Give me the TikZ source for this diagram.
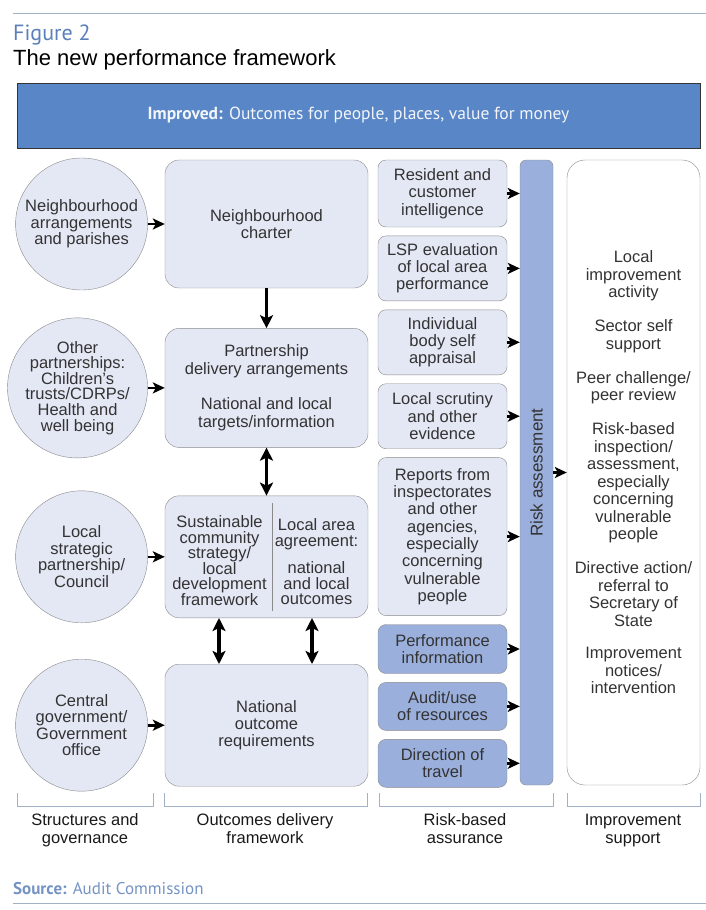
\documentclass[tikz,border=0pt]{standalone}
\usepackage{fontspec}
\setmainfont{Liberation Sans}
\newfontfamily\myriadlike{PT Sans}
\usetikzlibrary{positioning,arrows.meta}
\definecolor{bandblue}{HTML}{5886C6}
\definecolor{paleblue}{HTML}{E4E8F5}
\definecolor{midblue}{HTML}{9AAFDB}
\definecolor{edgegray}{HTML}{8A8A8A}
\definecolor{inktext}{HTML}{333333}
\definecolor{headblue}{HTML}{5B80B9}
\definecolor{rulegray}{HTML}{A3B1C6}
\begin{document}
\begin{tikzpicture}[x=1pt, y=-1pt, node distance=8.5pt, >={Stealth[length=12pt,width=11pt,inset=3pt]},
	txt/.style={font=\fontsize{16.5}{17.3}\selectfont, text=inktext, align=center, inner sep=0pt},
	circ/.style={txt, draw=edgegray, fill=paleblue, circle, minimum size=132pt},
	bigbox/.style={txt, draw=edgegray, fill=paleblue, rounded corners=14pt, minimum width=203pt},
	srcbox/.style={txt, draw=edgegray, fill=paleblue, rounded corners=8pt, minimum width=129pt},
	darkbox/.style={srcbox, fill=midblue},
	link/.style={->, line width=2.6pt},
	flow/.style={line width=3.2pt, >={Stealth[length=13pt,width=13pt,inset=3pt]}},
	collabel/.style={font=\fontsize{16.5}{18}\selectfont, text=black!90, align=center, inner sep=0pt}]
	\useasboundingbox (0,0) rectangle (706,910);
	\draw[rulegray, line width=1pt] (13,13) -- (706,13);
	\node[anchor=base west, inner sep=0pt, font=\myriadlike\fontsize{22}{24}\selectfont, text=headblue] (fig) at (13,40) {Figure 2};
	\node[anchor=base west, inner sep=0pt, font=\fontsize{22}{24}\selectfont] (title) at (13,65) {The new performance framework};
	\node[draw=black!80, fill=bandblue, minimum width=683pt, minimum height=65pt, inner sep=0pt, font=\myriadlike\fontsize{17.5}{18}\selectfont, text=white!92!bandblue] (band) at (358.5,115.5) {\textbf{Improved:} Outcomes for people, places, value for money};

	\node[bigbox, minimum height=128pt] (charter) at (266.5,224) {Neighbourhood\\charter};
	\node[bigbox, minimum height=119pt, below=40pt of charter, font=\fontsize{16.5}{18.5}\selectfont] (delivery) {Partnership\\delivery arrangements\\[16pt]National and local\\targets/information};
	\node[bigbox, minimum height=122pt, below=48pt of delivery] (strategy) {};
	\node[bigbox, minimum height=122pt, below=46pt of strategy] (national) {National\\outcome\\requirements};
	\node[txt, font=\fontsize{16.5}{15.5}\selectfont] (scs) at ([xshift=-47pt,yshift=-4pt]strategy.center) {Sustainable\\community\\strategy/\\local\\development\\framework};
	\node[txt, font=\fontsize{16.5}{15.5}\selectfont] (laa) at ([xshift=50pt,yshift=-5pt]strategy.center) {Local area\\agreement:\\[12pt]national\\and local\\outcomes};
	\draw[edgegray] ([xshift=5.5pt,yshift=-7pt]strategy.north) -- ([xshift=5.5pt,yshift=7pt]strategy.south);

	\node[circ, left=17pt of charter, font=\fontsize{16.5}{16.5}\selectfont] (hood) {Neighbourhood\\arrangements\\and parishes};
	\node[circ, left=17pt of delivery, font=\fontsize{16.5}{15.6}\selectfont] (partners) {Other\\partnerships:\\Children's\\trusts/CDRPs/\\Health and\\well being};
	\node[circ, left=17pt of strategy, font=\fontsize{16.5}{16.5}\selectfont] (lsp) {Local\\strategic\\partnership/\\Council};
	\node[circ, left=17pt of national, font=\fontsize{16.5}{16.5}\selectfont] (central) {Central\\government/\\Government\\office};

	\draw[link] (hood) -- (charter);
	\draw[link] (partners) -- (delivery);
	\draw[link] (lsp) -- (strategy);
	\draw[link] (central) -- (national);
	\draw[flow, ->] (charter) -- (delivery);
	\draw[flow, <->] (delivery) -- (strategy);
	\draw[flow, <->] ([xshift=-47.5pt]strategy.south) -- ([xshift=-47.5pt]national.north);
	\draw[flow, <->] ([xshift=45.5pt]strategy.south) -- ([xshift=45.5pt]national.north);

	\node[srcbox, minimum height=67pt] (resident) at (442.5,193.5) {Resident and\\customer\\intelligence};
	\node[srcbox, minimum height=65pt, below=of resident] (lspeval) {LSP evaluation\\of local area\\performance};
	\node[srcbox, minimum height=65pt, below=of lspeval] (selfapp) {Individual\\body self\\appraisal};
	\node[srcbox, minimum height=65pt, below=of selfapp] (scrutiny) {Local scrutiny\\and other\\evidence};
	\node[srcbox, minimum height=158pt, below=of scrutiny] (reports) {Reports from\\inspectorates\\and other\\agencies,\\especially\\concerning\\vulnerable\\people};
	\node[darkbox, minimum height=49pt, below=of reports] (perf) {Performance\\information};
	\node[darkbox, minimum height=48pt, below=of perf] (audit) {Audit/use\\of resources};
	\node[darkbox, minimum height=48pt, below=of audit] (travel) {Direction of\\travel};

	\node[draw=edgegray, fill=midblue, rounded corners=6pt, minimum width=33pt, minimum height=625pt, inner sep=0pt] (risk) at (536.5,472.5) {};
	\node[txt, rotate=90, font=\fontsize{17}{18}\selectfont] (risklabel) at (risk.center) {Risk assessment};
	\node[txt, draw=edgegray, fill=white, rounded corners=18pt, minimum width=133pt, minimum height=625pt, font=\fontsize{16.5}{17.5}\selectfont] (support) at (633.5,472.5) {Local\\improvement\\activity\\[16.5pt]Sector self\\support\\[16.5pt]Peer challenge/\\peer review\\[16.5pt]Risk-based\\inspection/\\assessment,\\especially\\concerning\\vulnerable\\people\\[16.5pt]Directive action/\\referral to\\Secretary of\\State\\[15pt]Improvement\\notices/\\intervention};

	\foreach \src in {resident,lspeval,selfapp,scrutiny,reports,perf,audit,travel}
		\draw[link] (\src) -- (\src -| risk.west);
	\draw[link] (risk) -- (support);

	\foreach \l/\r in {17/153,164/367,379/553,567/700}
		\draw[rulegray, line width=1pt] (\l,793) -- (\l,806) -- (\r,806) -- (\r,793);
	\node[collabel] (structures) at (85,831) {\strut Structures and\\\strut governance};
	\node[collabel] (outcomes) at (265,831) {\strut Outcomes delivery\\\strut framework};
	\node[collabel] (assurance) at (465,831) {\strut Risk-based\\\strut assurance};
	\node[collabel] (improvement) at (633,831) {\strut Improvement\\\strut support};

	\node[anchor=base west, inner sep=0pt, font=\myriadlike\fontsize{17}{18}\selectfont, text=headblue!85!white] (source) at (13,894) {\textbf{Source:} Audit Commission};
	\draw[rulegray, line width=1pt] (13,903) -- (706,903);
\end{tikzpicture}
\end{document}
